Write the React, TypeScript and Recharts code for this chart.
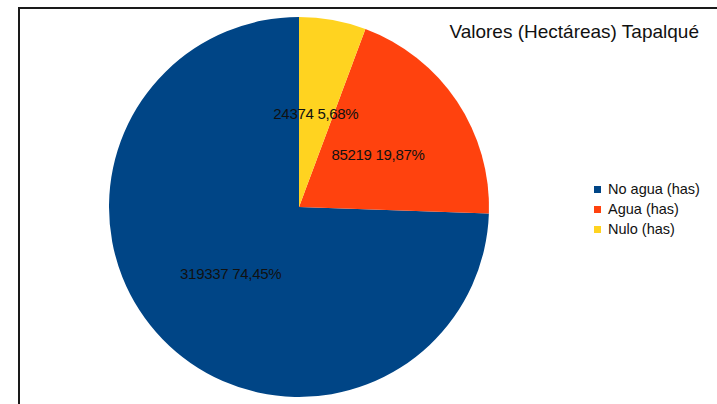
import React from "react";
import { PieChart, Pie, Cell, Legend } from "recharts";

const categories = ["No agua (has)", "Agua (has)", "Nulo (has)"];
const values = [319337, 85219, 24374];
const percentLabels = ["74,45%", "19,87%", "5,68%"];
const colors = ["#004586", "#ff420e", "#ffd320"];
const title = "Valores (Hectáreas) Tapalqué";

const data = categories.map((name, i) => ({ name, value: values[i], pct: percentLabels[i] }));

const FONT = '"Liberation Sans", Arial, sans-serif';
const RAD = Math.PI / 180;

const renderLabel = (props: any) => {
  const { cx, cy, midAngle, outerRadius, index } = props;
  const r = outerRadius * 0.5;
  const x = cx + r * Math.cos(-midAngle * RAD);
  const y = cy + r * Math.sin(-midAngle * RAD);
  return (
    <text
      x={x}
      y={y}
      fill="#111"
      textAnchor="middle"
      dominantBaseline="central"
      fontFamily={FONT}
      fontSize={15}
      letterSpacing={-0.3}
    >
      {`${values[index]} ${percentLabels[index]}`}
    </text>
  );
};

const renderLegend = () => (
  <div style={{ fontFamily: FONT, fontSize: 14.5, color: "#111" }}>
    {categories.map((c, i) => (
      <div key={c} style={{ display: "flex", alignItems: "center", height: 20, whiteSpace: "nowrap" }}>
        <span style={{ display: "inline-block", width: 7, height: 7, background: colors[i], marginRight: 7 }} />
        <span>{c}</span>
      </div>
    ))}
  </div>
);

export default function App() {
  return (
    <div style={{ position: "absolute", left: 0, top: 0, width: 717, height: 404, background: "#fff", overflow: "hidden" }}>
      <div
        style={{
          position: "absolute",
          left: 18,
          top: 7,
          width: 720,
          height: 420,
          borderTop: "2px solid #1a1a1a",
          borderLeft: "2px solid #1a1a1a",
          boxSizing: "border-box",
        }}
      />
      <div
        style={{
          position: "absolute",
          right: 18,
          top: 20,
          fontFamily: FONT,
          fontSize: 19,
          color: "#111",
          whiteSpace: "nowrap",
          lineHeight: "24px",
        }}
      >
        {title}
      </div>
      <div style={{ position: "absolute", left: 0, top: 0 }}>
        <PieChart width={717} height={404} margin={{ top: 0, right: 0, bottom: 0, left: 0 }}>
          <Pie
            data={data}
            dataKey="value"
            nameKey="name"
            cx={299}
            cy={207}
            outerRadius={190}
            startAngle={90}
            endAngle={450}
            stroke="none"
            label={renderLabel}
            labelLine={false}
            isAnimationActive={false}
          >
            {data.map((d, i) => (
              <Cell key={d.name} fill={colors[i]} />
            ))}
          </Pie>
          <Legend
            content={renderLegend}
            wrapperStyle={{ position: "absolute", left: 594, top: 179, width: 120 }}
          />
        </PieChart>
      </div>
    </div>
  );
}
